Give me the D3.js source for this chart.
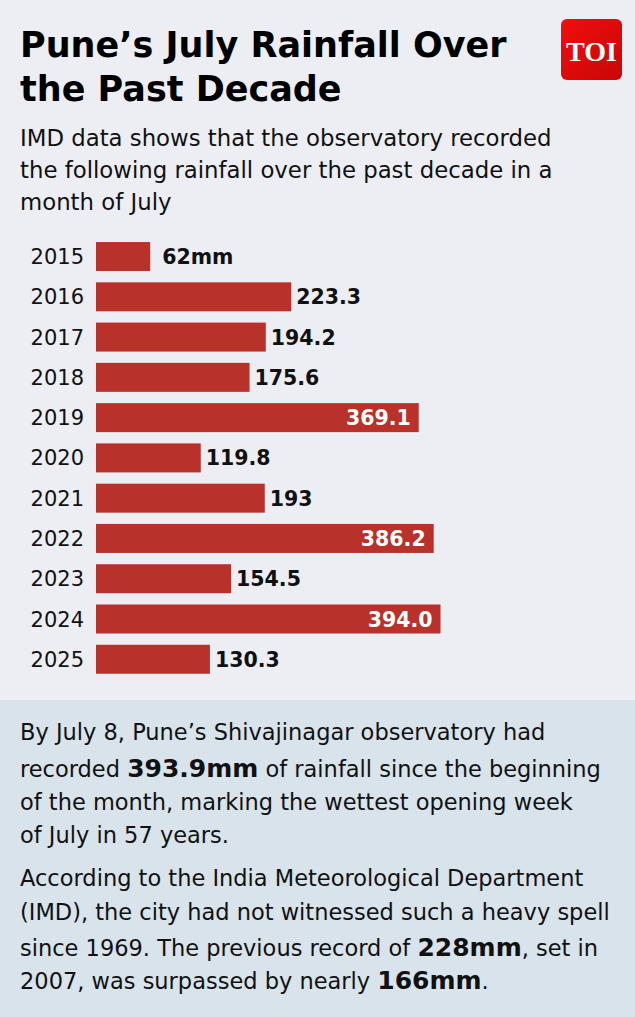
<!DOCTYPE html>
<html lang="en">
<head>
    <title>Pune's July Rainfall Over the Past Decade</title>
    <meta charset="UTF-8">
    <script src="https://d3js.org/d3.v7.min.js"></script>
    <style>
        body {
            margin: 0;
            padding: 0;
            background: #eceef3;
        }

        #rain-chart {
            display: block;
            font-family: "DejaVu Sans", sans-serif;
        }

        #rain-chart text {
            white-space: pre;
        }
    </style>
</head>
<body>
<svg id="rain-chart" width="635" height="1017"></svg>
<script>
    var years = ['2015', '2016', '2017', '2018', '2019', '2020', '2021', '2022', '2023', '2024', '2025'];
    var rainfall = [62, 223.3, 194.2, 175.6, 369.1, 119.8, 193, 386.2, 154.5, 394.0, 130.3];
    var valueLabels = ['62mm', '223.3', '194.2', '175.6', '369.1', '119.8', '193', '386.2', '154.5', '394.0', '130.3'];

    var titleLines = ['Pune\u2019s July Rainfall Over', 'the Past Decade'];
    var subtitleLines = [
        'IMD data shows that the observatory recorded',
        'the following rainfall over the past decade in a',
        'month of July'
    ];
    // each line is a list of [text, bold]
    var noteOne = [
        [['By July 8, Pune\u2019s Shivajinagar observatory had', false]],
        [['recorded ', false], ['393.9mm', true], [' of rainfall since the beginning', false]],
        [['of the month, marking the wettest opening week', false]],
        [['of July in 57 years.', false]]
    ];
    var noteTwo = [
        [['According to the India Meteorological Department', false]],
        [['(IMD), the city had not witnessed such a heavy spell', false]],
        [['since 1969. The previous record of ', false], ['228mm', true], [', set in', false]],
        [['2007, was surpassed by nearly ', false], ['166mm', true], ['.', false]]
    ];

    (function () {
        var svg = d3.select('#rain-chart');
        var barColor = '#b8322b';

        svg.append('rect')
            .attr('width', 635).attr('height', 700)
            .attr('fill', '#eceef3');
        svg.append('rect')
            .attr('y', 700).attr('width', 635).attr('height', 317)
            .attr('fill', '#d8e3eb');

        // title + subtitle
        svg.append('g').selectAll('text')
            .data(titleLines)
            .join('text')
            .attr('x', 20)
            .attr('y', function (d, i) { return 57 + i * 43.5; })
            .attr('font-size', '35px')
            .attr('font-weight', 'bold')
            .attr('fill', '#000')
            .text(function (d) { return d; });

        svg.append('g').selectAll('text')
            .data(subtitleLines)
            .join('text')
            .attr('x', 20)
            .attr('y', function (d, i) { return 146 + i * 32; })
            .attr('font-size', '22.8px')
            .attr('fill', '#111')
            .text(function (d) { return d; });

        // TOI badge
        var grad = svg.append('defs').append('linearGradient')
            .attr('id', 'toi-grad')
            .attr('x1', 0).attr('y1', 0).attr('x2', 1).attr('y2', 1);
        grad.append('stop').attr('offset', 0).attr('stop-color', '#f20d0d');
        grad.append('stop').attr('offset', 1).attr('stop-color', '#c80707');
        var badge = svg.append('g').attr('transform', 'translate(561,19)');
        badge.append('rect')
            .attr('width', 61).attr('height', 61).attr('rx', 6)
            .attr('fill', 'url(#toi-grad)');
        badge.append('text')
            .attr('x', 30.5).attr('y', 42)
            .attr('text-anchor', 'middle')
            .attr('font-family', '"Liberation Serif", "DejaVu Serif", serif')
            .attr('font-weight', 'bold')
            .attr('font-size', '28px')
            .attr('fill', '#fff')
            .text('TOI');

        // bars
        var x = d3.scaleLinear()
            .domain([0, d3.max(rainfall)])
            .range([96, 440.5]);
        var y = d3.scaleBand()
            .domain(years)
            .range([236.4, 679.4])
            .paddingInner(0.28)
            .paddingOuter(0.14);

        var rows = svg.append('g').selectAll('g')
            .data(years)
            .join('g');

        rows.append('rect')
            .attr('x', x(0))
            .attr('y', function (d) { return y(d); })
            .attr('width', function (d, i) { return x(rainfall[i]) - x(0); })
            .attr('height', y.bandwidth())
            .attr('fill', barColor);

        var yAxis = svg.append('g')
            .attr('transform', 'translate(84,0)')
            .call(d3.axisLeft(y).tickSize(0).tickPadding(0));
        yAxis.select('.domain').remove();
        yAxis.selectAll('text')
            .attr('font-family', '"DejaVu Sans", sans-serif')
            .attr('font-size', '21px')
            .attr('fill', '#111')
            .attr('dy', '0.36em');

        rows.append('text')
            .attr('x', function (d, i) {
                if (rainfall[i] > 300) return x(rainfall[i]) - 8;
                return x(rainfall[i]) + (i === 0 ? 12 : 5);
            })
            .attr('y', function (d) { return y(d) + y.bandwidth() / 2; })
            .attr('dy', '0.37em')
            .attr('text-anchor', function (d, i) { return rainfall[i] > 300 ? 'end' : 'start'; })
            .attr('font-size', '20.5px')
            .attr('font-weight', 'bold')
            .attr('fill', function (d, i) { return rainfall[i] > 300 ? '#fff' : '#111'; })
            .text(function (d, i) { return valueLabels[i]; });

        // notes panel
        function drawNote(lines, baselines) {
            var t = svg.append('g').selectAll('text')
                .data(lines)
                .join('text')
                .attr('x', 20)
                .attr('y', function (d, i) { return baselines[i]; })
                .attr('font-size', '22.5px')
                .attr('fill', '#111');
            t.selectAll('tspan')
                .data(function (d) { return d; })
                .join('tspan')
                .attr('font-weight', function (s) { return s[1] ? 'bold' : null; })
                .attr('font-size', function (s) { return s[1] ? '25px' : null; })
                .text(function (s) { return s[0]; });
        }

        drawNote(noteOne, [740, 777, 810, 843]);
        drawNote(noteTwo, [886, 920, 956, 989]);
    })();
</script>
</body>
</html>
